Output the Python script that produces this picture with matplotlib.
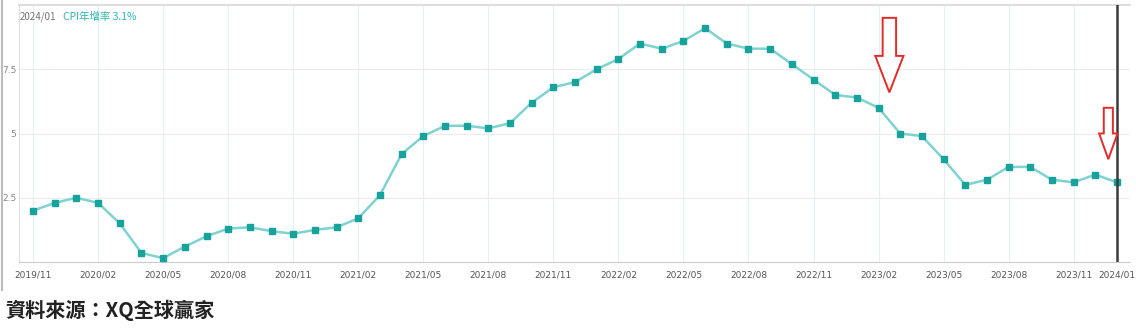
import matplotlib.pyplot as plt
from matplotlib.patches import FancyArrow
from matplotlib.lines import Line2D

plt.rcParams['font.family'] = ['Noto Sans CJK TC', 'DejaVu Sans']

# monthly CPI yoy (%), 2019/11 .. 2024/01
months = ['2019/11', '2019/12', '2020/01', '2020/02', '2020/03', '2020/04', '2020/05', '2020/06',
          '2020/07', '2020/08', '2020/09', '2020/10', '2020/11', '2020/12', '2021/01', '2021/02',
          '2021/03', '2021/04', '2021/05', '2021/06', '2021/07', '2021/08', '2021/09', '2021/10',
          '2021/11', '2021/12', '2022/01', '2022/02', '2022/03', '2022/04', '2022/05', '2022/06',
          '2022/07', '2022/08', '2022/09', '2022/10', '2022/11', '2022/12', '2023/01', '2023/02',
          '2023/03', '2023/04', '2023/05', '2023/06', '2023/07', '2023/08', '2023/09', '2023/10',
          '2023/11', '2023/12', '2024/01']
cpi = [2.0, 2.3, 2.5, 2.3, 1.5, 0.35, 0.15, 0.6, 1.0, 1.3, 1.35, 1.2, 1.1, 1.25, 1.35, 1.7,
       2.6, 4.2, 4.9, 5.3, 5.3, 5.2, 5.4, 6.2, 6.8, 7.0, 7.5, 7.9, 8.5, 8.3, 8.6, 9.1,
       8.5, 8.3, 8.3, 7.7, 7.1, 6.5, 6.4, 6.0, 5.0, 4.9, 4.0, 3.0, 3.2, 3.7, 3.7, 3.2,
       3.1, 3.4, 3.1]
yticks = [2.5, 5, 7.5]
ytick_labels = ['2.5', '5', '7.5']
xtick_idx = list(range(0, 49, 3)) + [50]
header_date = '2024/01'
header_text = 'CPI年增率 3.1%'
source_text = '資料來源：XQ全球贏家'

x = list(range(len(months)))

fig = plt.figure(figsize=(11.36, 3.35), dpi=100)
ax = fig.add_axes([19 / 1136, 1 - 262 / 335, 1111 / 1136, 257 / 335])

# grid
for i in xtick_idx[:-1]:
    ax.axvline(i, color='#e2f1fa', lw=0.9, zorder=0)
for v in yticks:
    ax.axhline(v, color='#ececec', lw=0.9, zorder=0)

ax.plot(x, cpi, color='#7fd3cf', lw=1.8, zorder=2)
ax.plot(x, cpi, ls='none', marker='s', ms=5, color='#17a39c', zorder=3)

# cursor line at the last month
ax.axvline(x[-1], color='#3a3a3a', lw=1.8, zorder=4)

ax.set_xlim(-0.65, 50.6)
ax.set_ylim(0, 10)
ax.set_xticks(xtick_idx)
ax.set_xticklabels([months[i] for i in xtick_idx], fontsize=6.5, color='#555555',
                   family='DejaVu Sans')
ax.set_yticks(yticks)
ax.set_yticklabels(ytick_labels, fontsize=6.5, color='#888888', family='DejaVu Sans')
ax.tick_params(axis='x', length=0, pad=6)
ax.tick_params(axis='y', length=0, pad=2)
ax.spines['right'].set_visible(False)
ax.spines['top'].set_color('#dddddd')
ax.spines['top'].set_linewidth(1.5)
ax.spines['left'].set_color('#dddddd')
ax.spines['bottom'].set_color('#cccccc')

# header
ax.text(0.001, 0.955, header_date, transform=ax.transAxes, fontsize=7, color='#777777',
        va='center', ha='left')
ax.text(0.04, 0.955, header_text, transform=ax.transAxes, fontsize=7.5, color='#2fb5ae',
        va='center', ha='left')

# red hollow arrows
ax.add_patch(FancyArrow(39.5, 9.5, 0, -2.9, width=0.62, head_width=1.3, head_length=1.42,
                        length_includes_head=True, facecolor='white', edgecolor='#e52a2a',
                        lw=1.4, zorder=5))
ax.add_patch(FancyArrow(49.6, 6.0, 0, -2.0, width=0.42, head_width=0.85, head_length=1.0,
                        length_includes_head=True, facecolor='white', edgecolor='#e52a2a',
                        lw=1.4, zorder=5))

# outer left border
fig.add_artist(Line2D([2 / 1136, 2 / 1136], [1 - 290 / 335, 1], color='#bbbbbb', lw=1.5))

fig.text(5 / 1136, 1 - 310 / 335, source_text, fontsize=14.5, fontweight='bold', color='#222222',
         va='center', ha='left')

fig.savefig('out.png', dpi=100)
